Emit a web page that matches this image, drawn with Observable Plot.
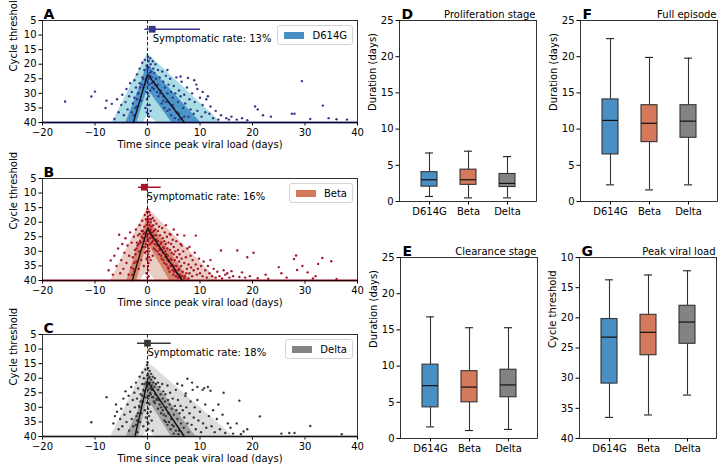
<!DOCTYPE html>
<html><head><meta charset="utf-8">
<script src="https://cdn.jsdelivr.net/npm/d3@7"></script>
<script src="https://cdn.jsdelivr.net/npm/@observablehq/plot@0.6"></script>
<style>
body{margin:0;background:#fff;font-family:"DejaVu Sans",sans-serif;}
#fig{position:relative;width:721px;height:471px;overflow:hidden;background:#fff;}
</style></head><body><div id="fig"></div>
<script>
// ---------- shared ----------
const timeTicks = [-20, -10, 0, 10, 20, 30, 40];
const ctTicks = [5, 10, 15, 20, 25, 30, 35, 40];
const variants = ["D614G", "Beta", "Delta"];
const rateValues = [13, 16, 18];

// ---------- panel A (D614G) ----------
const ptsA = [[-15.7,32.8],[-10.7,31.1],[-10.0,29.4],[-8.0,35.0],[-7.8,32.5],[-6.8,33.6],[-5.8,32.0],[-6.3,38.8],[-5.5,36.5],[-5.0,34.0],[-4.8,30.5],[-4.5,37.5],[-4.2,33.0],[-4.0,28.5],[-3.8,35.5],[-3.5,31.0],[-3.3,26.5],[-3.0,29.5],[-3.0,36.5],[-2.8,33.5],[-2.5,25.5],[-2.5,31.5],[-2.2,28.0],[-2.0,23.5],[-2.0,34.5],[-1.8,30.0],[-1.5,21.5],[-1.5,26.5],[-1.2,32.5],[-1.0,19.5],[-1.0,24.5],[-0.8,28.0],[-0.6,22.0],[-0.5,18.5],[-0.4,35.0],[-0.3,25.5],[-0.2,20.5],[-0.1,36.5],[-0.1,32.0],[-0.2,29.5],
[0.1,17.5],[0.2,19.0],[0.3,21.0],[0.4,23.0],[0.2,25.0],[0.5,18.0],[0.6,20.0],[0.7,22.5],[0.3,27.0],[0.5,29.0],[0.2,31.0],[0.4,34.0],[0.1,37.0],[0.8,24.5],[1.0,19.0],[1.1,21.5],[1.2,26.0],[0.9,28.0],[1.3,23.0],[1.5,20.0],[1.6,25.0],[0.6,36.0],[0.3,38.0],[1.8,27.5],
[2.0,22.0],[2.0,27.0],[2.3,24.5],[2.5,29.0],[2.8,22.5],[3.0,26.0],[3.0,31.0],[3.3,28.0],[3.5,24.0],[3.8,30.0],[3.8,22.0],[4.0,27.0],[4.0,33.0],[4.3,25.0],[4.5,29.5],[4.8,31.5],[5.0,27.5],[5.0,35.0],[5.3,30.0],[5.5,24.5],[5.8,33.0],[6.0,29.0],[6.0,37.0],[6.3,24.2],[6.3,31.0],[6.5,26.0],[6.8,35.0],[7.0,30.5],[7.2,33.5],[7.5,28.0],[7.7,24.7],[7.8,38.0],[8.0,32.0],[8.2,35.5],[8.5,30.0],[8.8,37.0],[8.9,25.5],[9.0,33.0],[9.3,27.0],[9.5,28.5],[9.5,36.0],[10.0,31.5],[10.3,38.0],[10.5,34.0],[10.5,29.5],[11.0,36.5],[11.2,32.0],[11.5,31.0],[11.8,37.0],[12.0,34.5],[12.5,38.5],[13.0,36.0],[13.5,39.0],[14.0,37.5],[15.0,38.5],[15.5,39.0],[16.0,38.0],[17.0,39.0],[18.0,38.5],[19.0,39.2],
[20.5,34.5],[21.0,35.5],[22.0,37.5],[23.5,38.0],[27.5,37.0],[29.4,25.8],[28.0,37.0],[31.0,38.8],[33.4,34.2],[34.5,38.5],[36.0,38.9],[38.0,39.0],
[0.5,24],[0.8,26.5],[1.2,28.5],[1.5,27],[1.8,29.5],[2.1,31],[2.4,30],[2.7,33.5],[3.0,32.5],[3.2,35],[3.5,33],[3.8,36],[4.2,35.5],[4.5,37.5],[4.8,34],[5.2,38.5],[5.6,36.5],[6.0,39],[6.5,38.5],[7.0,38],[-2.6,37.5],[-2.3,35],[-2.0,32],[-1.7,30],[-1.4,28],[-1.1,27],[-0.8,25],[-0.5,27],[0.0,21.5],[0.0,26],[0.1,30],[0.0,34]];
const lightA_t = [-6.7, -0.8, 0, 1.9, 14];
const lightA_top = [40, 19.1, 16.3, 19.5, 40];
const lightA_bot = [40, 40, 37.5, 40, 40];
const darkA_t = [-4.1, -2.0, 0, 4.6, 10.1];
const darkA_top = [40, 30.2, 20.0, 29.1, 40];
const darkA_bot = [40, 40, 28.5, 40, 40];
const medA_t = [-2.7, 0, 7.0];
const medA_ct = [40, 23.5, 40];
const symA = {med: 0.9, lo: -0.5, hi: 10.1, ct: 8};

// ---------- panel B (Beta) ----------
const ptsB = [[-7.4,36.5],[-7.0,33.1],[-6.6,38],[-6.3,31.5],[-5.9,35],[-5.6,29],[-5.4,24.3],[-5.2,37.5],[-5.0,33],[-4.8,27.5],[-4.6,36],[-4.4,30.5],[-4.2,25.5],[-4.0,34],[-3.8,28],[-3.6,38],[-3.5,31.5],[-3.3,23.5],[-3.1,35.5],[-3.0,27],[-2.8,32],[-2.6,25],[-2.5,37],[-2.4,29.5],[-2.2,22.5],[-2.1,33.5],[-2.0,27],[-1.8,24.5],[-1.7,36],[-1.6,30],[-1.5,21],[-1.4,26.5],[-1.2,33],[-1.1,23],[-1.0,19.5],[-0.9,28.5],[-0.8,25.5],[-0.7,35],[-0.6,21.5],[-0.5,17.5],[-0.5,30.5],[-0.4,23.5],[-0.3,19],[-0.3,27.5],[-0.2,32.5],[-0.2,37.5],[-0.1,16.5],[-0.1,21],[-0.1,25],
[0.0,15.5],[0.1,18],[0.1,20],[0.2,22],[0.2,24],[0.1,26.5],[0.2,29],[0.1,31],[0.2,34],[0.1,36.5],[0.3,16.5],[0.3,19],[0.4,21],[0.4,23],[0.4,25.5],[0.5,27.5],[0.3,30],[0.5,17.5],[0.6,20],[0.6,22.5],[0.7,24.5],[0.7,19],[0.8,21.5],[0.8,27],[0.9,23.5],[1.0,18.5],[1.0,25.5],[1.1,21],[1.2,29],[1.2,23],[1.3,19.5],[1.4,26],[1.5,22.5],[1.6,24.5],[1.7,20.5],[1.8,28],[0.2,38.5],[0.6,33],[1.0,31.5],
[2.0,23],[2.0,26.5],[2.2,21.5],[2.3,29],[2.4,24.5],[2.5,27.5],[2.6,31.5],[2.8,22],[2.9,25.5],[3.0,28.5],[3.0,33],[3.2,26.5],[3.3,23.5],[3.4,30],[3.5,27.5],[3.5,21],[3.6,34.5],[3.7,25],[3.8,29],[3.9,31.5],[4.0,27],[4.0,36],[4.2,24],[4.3,29.5],[4.4,32.5],[4.4,24.3],[4.5,27.5],[4.6,30.5],[4.7,34.5],[4.8,26],[5.0,31],[5.0,28.5],[5.0,22.5],[5.1,37],[5.2,33],[5.3,30],[5.5,35],[5.5,26.5],[5.6,32],[5.7,24.3],[5.8,29.5],[5.9,36.5],[6.0,33.5],[6.1,31],[6.2,38],[6.3,27.5],[6.4,35],[6.5,32.5],[6.5,28],[6.7,37],[6.8,30],[7.0,24.6],[7.0,34],[7.1,38.5],[7.3,32],[7.5,36],[7.6,29],[7.8,34.5],[8.0,37.5],[8.0,28.5],[8.2,31.5],[8.3,35.5],[8.5,38.5],[8.6,33],[8.8,36.5],[9.0,30.5],[9.2,24.6],[9.2,34.5],[9.4,38],[9.6,36],[9.8,32.5],[10.0,37.5],[10.2,35],[10.5,38.5],[10.7,33.5],[11.0,36.5],[11.3,39],[11.5,35],[11.8,37.5],[12.0,33],[12.3,38.5],[12.6,36],[13.0,39],[13.3,37],[13.7,38.5],[14.0,29.7],[14.2,39.3],[14.5,36.5],[14.8,38],[15.2,37.5],[15.6,39],[16.0,36.8],[16.3,38.5],[17.1,29.7],[17.5,38.8],[18.0,37.2],[18.6,39],[19.0,32],[19.5,38.5],[20.2,30.5],[21.0,39.2],[22.5,38],[23.0,39.4],[25.0,35.4],[25.5,37.5],[26.5,39],[27.9,32.6],[28.3,31.4],[28.5,36.4],[29.5,35],[30.5,37.2],[31.5,39.3],[32.0,38.5],[32.5,34.3],[33.3,32.3],[35.0,33.4],[36.0,39.5],
[0.5,23.5],[0.8,25],[1.0,26.5],[1.2,24.5],[1.4,27.5],[1.5,29.5],[1.7,26],[1.9,30],[2.1,28],[2.2,31],[2.4,29.5],[2.6,27],[2.7,32.5],[2.9,30.5],[3.1,29],[3.2,34],[3.4,32],[3.6,31],[3.8,33],[3.9,35.5],[4.1,33.5],[4.2,37],[4.4,35],[4.6,33],[4.8,36.5],[4.9,38],[5.1,35],[5.3,36.5],[5.4,38.5],[5.6,37.5],[5.8,39],[6.0,36],[6.3,39],[6.6,38.5],[7.0,39.2],[7.4,37.5],[7.8,39.3],
[-2.9,38],[-2.7,36],[-2.5,34],[-2.3,31],[-2.1,29],[-1.9,28],[-1.7,27.5],[-1.5,24],[-1.3,27],[-1.1,25],[-0.9,23],[-0.7,24],[-0.6,26.5],[-0.4,28.5],[-0.2,30],
[0.0,19.5],[0.0,22.5],[0.0,26],[0.1,28],[0.0,33],[0.1,35],[0.0,39],[0.3,32]];
const lightB_t = [-7.0, -1.4, 0, 1.5, 13.5];
const lightB_top = [40, 19.9, 15.0, 17.8, 40];
const lightB_bot = [40, 40, 36.6, 40, 40];
const darkB_t = [-3.9, -2.0, 0, 4.2, 8.0];
const darkB_top = [40, 29.0, 18.5, 29.8, 40];
const darkB_bot = [40, 40, 27, 40, 40];
const medB_t = [-2.9, 0, 6.6];
const medB_ct = [40, 22.2, 40];
const symB = {med: -0.6, lo: -1.7, hi: 2.6, ct: 8};

// ---------- panel C (Delta) ----------
const ptsC = [[-10.7,35.1],[-7.8,26.5],[-6.5,35.5],[-6.2,33],[-6.0,29],[-5.8,31.5],[-5.5,37.5],[-5.2,34],[-5.0,30.5],[-4.8,36.5],[-4.6,27],[-4.4,32.5],[-4.2,24.5],[-4.0,35],[-3.8,29],[-3.6,26],[-3.5,38],[-3.3,31.5],[-3.1,23],[-3.0,34],[-2.8,27.5],[-2.7,36.5],[-2.5,25],[-2.4,30],[-2.2,21.5],[-2.1,33],[-2.0,27],[-1.9,38.5],[-1.8,23.5],[-1.6,29.5],[-1.5,19.5],[-1.4,35],[-1.3,25.5],[-1.2,32],[-1.0,18],[-1.0,22],[-0.9,28],[-0.8,36.5],[-0.7,20],[-0.6,24.5],[-0.5,31],[-0.4,17],[-0.4,26.5],[-0.3,33.5],[-0.2,21.5],[-0.2,38],[-0.1,15.5],[-0.1,28.5],
[0.0,14.5],[0.1,16.5],[0.1,18.5],[0.2,20],[0.2,22],[0.1,24],[0.3,26],[0.2,28.5],[0.1,30.5],[0.3,33],[0.2,35.5],[0.1,37.5],[0.4,17.5],[0.4,19.5],[0.5,21.5],[0.5,23.5],[0.6,25.5],[0.4,29],[0.7,18.5],[0.7,20.5],[0.8,22.5],[0.9,26.5],[1.0,19.5],[1.0,24],[1.1,21.5],[1.2,28],[1.3,23],[1.4,20],[1.5,25.5],[1.6,22],[1.8,27],[0.6,31.5],[0.8,34.5],[1.0,38],
[2.0,24],[2.0,21.5],[2.2,27.5],[2.3,23],[2.5,25.5],[2.6,30],[2.8,22],[2.9,27],[3.0,24.5],[3.1,32.5],[3.3,28],[3.4,25.5],[3.5,35],[3.6,30],[3.8,22.5],[3.9,27.5],[4.0,32],[4.2,29],[4.3,25],[4.5,34],[4.6,30.5],[4.8,27],[5.0,32.5],[5.0,36.5],[5.2,29.5],[5.4,24],[5.5,31],[5.7,34],[5.7,21.9],[5.8,27.5],[6.0,38],[6.1,32],[6.3,29.5],[6.4,35.5],[6.6,22.5],[6.7,31],[6.9,37],[7.0,33.5],[7.2,26],[7.3,25.2],[7.4,30],[7.6,35.5],[7.6,20.2],[7.8,38.5],[8.0,32],[8.2,28],[8.4,36],[8.5,21.5],[8.6,24],[8.8,33.5],[9.0,30],[9.2,37.5],[9.5,27.5],[9.5,23],[9.7,34.5],[10.0,31.5],[10.2,38.5],[10.5,24],[10.6,35.5],[10.8,23.4],[11.0,29],[11.2,37],[11.5,23],[11.7,33],[12.0,24.3],[12.2,36.5],[12.5,31],[12.8,38.5],[13.2,34],[13.5,29],[13.8,37.5],[14.3,32.5],[14.5,25],[14.8,38.8],[15.3,35.5],[15.8,37],[16.3,39],[17.0,35.5],[17.5,27.7],[17.8,39.2],[18.3,38.3],[19.0,37.5],[21.4,33.1],[25.5,39],[27.0,38.8],[28.0,38.8],[31.0,36.4],[37.0,39.2],
[0.5,25],[0.8,24],[1.1,26.5],[1.4,28.5],[1.7,27.5],[2.0,30.5],[2.3,29],[2.6,32],[2.9,31],[3.2,34.5],[3.5,33],[3.8,36],[4.1,35],[4.4,37.5],[4.7,36],[5.0,39],[5.4,38],[5.9,39.2],[-2.2,36],[-2.0,34.5],[-1.8,32],[-1.5,30],[-1.3,28],[-1.0,26],[-0.8,24],[-0.6,22],[0.0,19],[0.0,23],[0.1,27],[0.0,32],[0.0,35]];
const lightC_t = [-7.0, -0.8, 0, 1.3, 16.4];
const lightC_top = [40, 17.3, 14.7, 16.3, 40];
const lightC_bot = [40, 40, 37, 40, 40];
const darkC_t = [-4.1, -1.7, 0, 4.5, 9.2];
const darkC_top = [40, 30.9, 18.0, 28.8, 40];
const darkC_bot = [40, 40, 27, 40, 40];
const medC_t = [-2.4, 0, 7.0];
const medC_ct = [40, 21.1, 40];
const symC = {med: 0.0, lo: -1.9, hi: 4.5, ct: 8};

// ---------- box panels: [low whisker, q1, median, q3, high whisker] per variant ----------
const prolifStats = [[0.7, 2.05, 3.0, 4.05, 6.7], [0.5, 2.3, 3.0, 4.4, 6.95], [0.5, 2.0, 2.5, 3.8, 6.2]];
const clearStats  = [[1.6, 4.3, 7.3, 10.2, 16.8], [1.1, 5.0, 7.1, 9.3, 15.3], [1.25, 5.7, 7.4, 9.5, 15.3]];
const fullStats   = [[2.3, 6.5, 11.2, 14.1, 22.5], [1.6, 8.2, 10.8, 13.3, 19.9], [2.3, 8.8, 11.1, 13.3, 19.8]];
const peakStats   = [[36.5, 30.9, 23.2, 20.2, 13.7], [36.1, 26.2, 22.4, 19.5, 12.9], [32.8, 24.3, 20.7, 18.0, 12.2]];
const durTicks = [0, 5, 10, 15, 20, 25];
const peakTicks = [10, 15, 20, 25, 30, 35, 40];

// ---------- colours ----------
const boxFill = ["#4a8fc4", "#d4795b", "#838383"];
const ptCol = ["#35358e", "#a8142c", "#383838"];
const lightCol = ["#a9dde3", "#e9cdc2", "#dcdcdc"];
const darkCol = ["#4b96c8", "#d6866b", "#a2a2a2"];
const baseCol = ["#35358e", "#8c1020", "#6a6a6a"];

const fig = document.getElementById("fig");
const baseStyle = {fontFamily: "DejaVu Sans", fontSize: "10px", color: "#000", background: "none", overflow: "visible", maxWidth: "none"};

function place(svg, left, top) {
  svg.style.position = "absolute";
  svg.style.left = left + "px";
  svg.style.top = top + "px";
  fig.appendChild(svg);
}
function band(t, top, bot) { return t.map((v, i) => ({t: v, y1: top[i], y2: bot[i]})); }

function timePanel(i, top, letter, pts, light, dark, med, sym, rateX) {
  const svg = Plot.plot({
    width: 362, height: 158, marginLeft: 42, marginRight: 5, marginTop: 20, marginBottom: 36,
    style: baseStyle,
    x: {domain: [-20, 40], ticks: timeTicks, tickSize: 3.5, tickPadding: 2.5, label: null},
    y: {domain: [40, 5], ticks: ctTicks, tickSize: 3.5, tickPadding: 2.5, label: null},
    marks: [
      Plot.areaY(light, {x: "t", y1: "y1", y2: "y2", fill: lightCol[i], curve: "linear"}),
      Plot.areaY(dark, {x: "t", y1: "y1", y2: "y2", fill: darkCol[i], curve: "linear"}),
      Plot.ruleY([40], {stroke: baseCol[i], strokeWidth: 1.8}),
      Plot.dot(pts, {x: d => d[0], y: d => d[1], r: 1.2, fill: ptCol[i]}),
      Plot.line(med.t.map((t, k) => ({t, ct: med.ct[k]})), {x: "t", y: "ct", stroke: "#111", strokeWidth: 1.4}),
      Plot.ruleX([0], {stroke: "#222", strokeWidth: 1, strokeDasharray: "3.5,2"}),
      Plot.ruleY([sym], {y: "ct", x1: "lo", x2: "hi", stroke: ptCol[i], strokeWidth: 1.5}),
      Plot.dot([sym], {x: "med", y: "ct", symbol: "square", r: 3.8, fill: ptCol[i]}),
      Plot.text([rateValues[i]], {x: rateX, y: 11.3, text: d => `Symptomatic rate: ${d}%`, textAnchor: "start", fontSize: 10, fill: "#000"}),
      Plot.frame({stroke: "#000", strokeWidth: 0.8}),
      Plot.text([letter], {frameAnchor: "top-left", dx: 1, dy: -11, text: d => d, textAnchor: "start", fontSize: 14, fontWeight: "bold", fill: "#000"}),
      Plot.text(["Cycle threshold"], {frameAnchor: "left", dx: -29, rotate: -90, text: d => d, fontSize: 10, fill: "#000"}),
      Plot.text(["Time since peak viral load (days)"], {frameAnchor: "bottom", dy: 25, text: d => d, fontSize: 10, fill: "#000"})
    ]
  });
  place(svg, 0, top);
}

timePanel(0, 0, "A", ptsA, band(lightA_t, lightA_top, lightA_bot), band(darkA_t, darkA_top, darkA_bot), {t: medA_t, ct: medA_ct}, symA, 1.0);
timePanel(1, 158, "B", ptsB, band(lightB_t, lightB_top, lightB_bot), band(darkB_t, darkB_top, darkB_bot), {t: medB_t, ct: medB_ct}, symB, -0.2);
timePanel(2, 314, "C", ptsC, band(lightC_t, lightC_top, lightC_bot), band(darkC_t, darkC_top, darkC_bot), {t: medC_t, ct: medC_ct}, symC, 0.0);

function boxPanel(stats, left, top, letter, title, ylabel, domain, ticks) {
  const rows = variants.map((v, k) => ({v, low: stats[k][0], q1: stats[k][1], med: stats[k][2], q3: stats[k][3], high: stats[k][4], fill: boxFill[k]}));
  const svg = Plot.plot({
    width: 180, height: 225, marginLeft: 39, marginRight: 4, marginTop: 20, marginBottom: 24,
    style: baseStyle,
    color: {type: "identity"},
    x: {type: "band", domain: variants, paddingInner: 0.6, paddingOuter: 0.53, tickSize: 3.5, tickPadding: 3, label: null},
    y: {domain, ticks, tickSize: 3.5, tickPadding: 2.5, label: null},
    marks: [
      Plot.ruleX(rows, {x: "v", y1: "low", y2: "q1", stroke: "#333", strokeWidth: 1.1}),
      Plot.ruleX(rows, {x: "v", y1: "q3", y2: "high", stroke: "#333", strokeWidth: 1.1}),
      Plot.tickY(rows, {x: "v", y: "low", insetLeft: 4, insetRight: 4, stroke: "#222", strokeWidth: 1.1}),
      Plot.tickY(rows, {x: "v", y: "high", insetLeft: 4, insetRight: 4, stroke: "#222", strokeWidth: 1.1}),
      Plot.barY(rows, {x: "v", y1: "q1", y2: "q3", fill: "fill", stroke: "#333", strokeWidth: 1.1}),
      Plot.tickY(rows, {x: "v", y: "med", stroke: "#111", strokeWidth: 1.2}),
      Plot.frame({stroke: "#000", strokeWidth: 0.8}),
      Plot.text([letter], {frameAnchor: "top-left", dx: 2, dy: -11, text: d => d, textAnchor: "start", fontSize: 14, fontWeight: "bold", fill: "#000"}),
      Plot.text([title], {frameAnchor: "top-right", dx: -1, dy: -10, text: d => d, textAnchor: "end", fontSize: 10, fill: "#000"}),
      Plot.text([ylabel], {frameAnchor: "left", dx: -27, rotate: -90, text: d => d, fontSize: 10, fill: "#000"})
    ]
  });
  place(svg, left, top);
}

boxPanel(prolifStats, 360, 0, "D", "Proliferation stage", "Duration (days)", [0, 25], durTicks);
boxPanel(fullStats, 541, 0, "F", "Full episode", "Duration (days)", [0, 25], durTicks);
boxPanel(clearStats, 361, 237, "E", "Clearance stage", "Duration (days)", [0, 25], durTicks);
boxPanel(peakStats, 540, 237, "G", "Peak viral load", "Cycle threshold", [40, 10], peakTicks);

// legends (inside panels A–C, upper right)
const legendTops = [25, 183, 339];
variants.forEach((v, k) => {
  const d = document.createElement("div");
  d.style.cssText = `position:absolute;right:${721 - 353}px;top:${legendTops[k]}px;height:18px;display:flex;align-items:center;padding:0 5px 0 6px;border:1px solid #d4d4d4;border-radius:3px;background:rgba(255,255,255,0.85);font:10px 'DejaVu Sans';color:#000;`;
  const sw = document.createElement("span");
  sw.style.cssText = `display:inline-block;width:20px;height:7px;background:${boxFill[k]};margin-right:8px;`;
  d.appendChild(sw);
  d.appendChild(document.createTextNode(v));
  fig.appendChild(d);
});
</script></body></html>
